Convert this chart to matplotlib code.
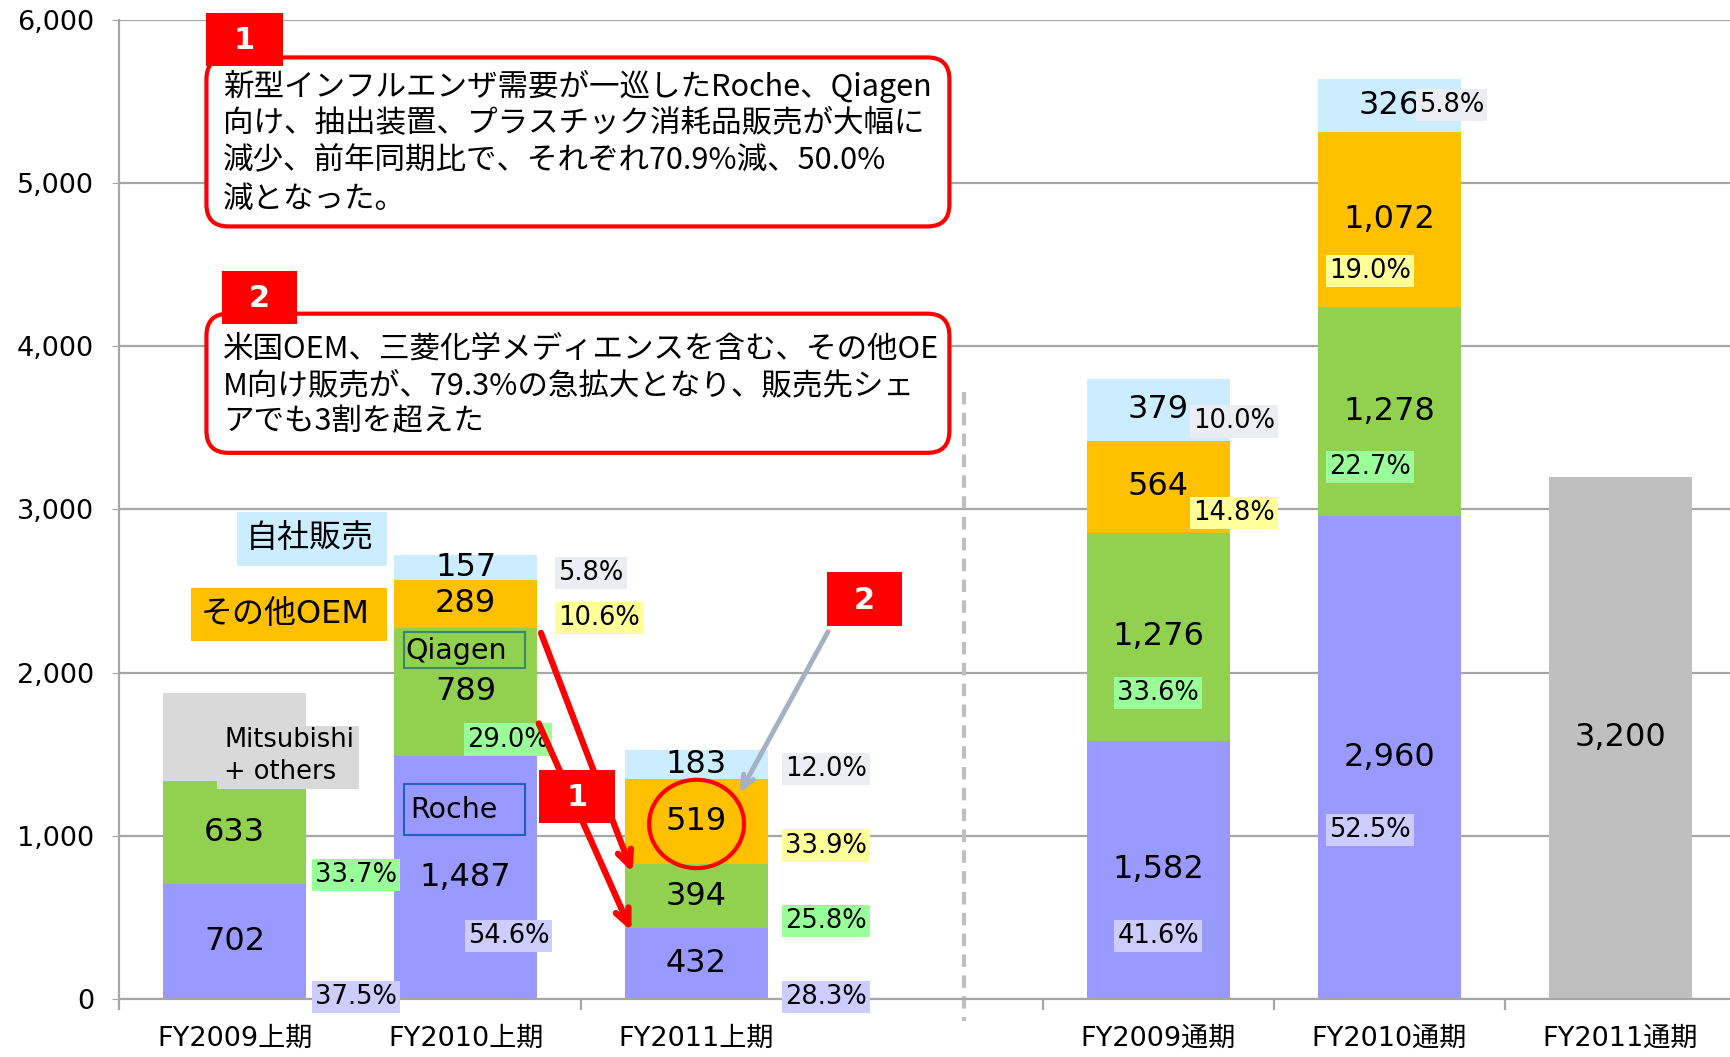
import matplotlib
matplotlib.use('Agg')
import matplotlib.pyplot as plt
from matplotlib.patches import Rectangle, FancyBboxPatch, Ellipse
from matplotlib.transforms import IdentityTransform
from matplotlib.ticker import FuncFormatter

plt.rcParams['font.family'] = ['DejaVu Sans', 'Noto Sans CJK JP']

# ---------------- data ----------------
categories = ['FY2009上期', 'FY2010上期', 'FY2011上期', 'FY2009通期', 'FY2010通期', 'FY2011通期']
positions = [0, 1, 2, 4, 5, 6]
roche = [702, 1487, 432, 1582, 2960, 0]
qiagen = [633, 789, 394, 1276, 1278, 0]
other_oem = [0, 289, 519, 564, 1072, 0]
direct_sales = [0, 157, 183, 379, 326, 0]
mitsubishi_others = [538, 0, 0, 0, 0, 0]
forecast = [0, 0, 0, 0, 0, 3200]

roche_pct = ['37.5%', '54.6%', '28.3%', '41.6%', '52.5%', None]
qiagen_pct = ['33.7%', '29.0%', '25.8%', '33.6%', '22.7%', None]
oem_pct = [None, '10.6%', '33.9%', '14.8%', '19.0%', None]
direct_pct = [None, '5.8%', '12.0%', '10.0%', '5.8%', None]

yticks = [0, 1000, 2000, 3000, 4000, 5000, 6000]

note1 = ['新型インフルエンザ需要が一巡したRoche、Qiagen',
         '向け、抽出装置、プラスチック消耗品販売が大幅に',
         '減少、前年同期比で、それぞれ70.9%減、50.0%',
         '減となった。']
note2 = ['米国OEM、三菱化学メディエンスを含む、その他OE',
         'M向け販売が、79.3%の急拡大となり、販売先シェ',
         'アでも3割を超えた']

# ---------------- style / layout ----------------
C_ROCHE, C_QIAGEN, C_OEM, C_DIRECT = '#9999FF', '#92D050', '#FFC000', '#CCECFF'
C_MITSU, C_FORE = '#D9D9D9', '#BFBFBF'
P_ROCHE, P_QIAGEN, P_OEM, P_DIRECT = '#CCCCFF', '#99FF99', '#FFFF99', '#EAEEF2'
BAR_W = 0.62

# percent label positions (x, y) in data units, per series
roche_pct_pos = [(0.526, 14), (1.185, 386), (2.561, 14), (4.0, 386), (4.916, 1035), None]
qiagen_pct_pos = [(0.526, 758), (1.185, 1590), (2.561, 480), (4.0, 1874), (4.916, 3261), None]
oem_pct_pos = [None, (1.577, 2334), (2.561, 940), (4.329, 2977), (4.916, 4459), None]
direct_pct_pos = [None, (1.543, 2612), (2.561, 1407), (4.329, 3539), (5.27, 5480), None]

W, H = 1731, 1057
SX, SY = W / 1568, H / 957


def P(xd, yd):
    return (xd * SX, H - yd * SY)


fig = plt.figure(figsize=(W / 100, H / 100), dpi=100)
ax = fig.add_axes([0.0689, 0.0549, 0.9311, 0.9263])
ax.set_xlim(-0.5, 6.48)
ax.set_ylim(0, 6000)

ax.set_axisbelow(True)
ax.yaxis.grid(True, color='#A6A6A6', lw=1.6)
for s in ['top', 'right']:
    ax.spines[s].set_visible(False)
for s in ['left', 'bottom']:
    ax.spines[s].set_color('#A6A6A6')
    ax.spines[s].set_linewidth(1.6)

ax.set_yticks(yticks)
ax.yaxis.set_major_formatter(FuncFormatter(lambda v, p: f'{int(v):,}'))
ax.tick_params(axis='y', labelsize=19.5, length=5, color='#A6A6A6', pad=13)
ax.set_xticks(positions, categories)
ax.tick_params(axis='x', which='major', labelsize=19.5, length=0, pad=19)
ax.set_xticks([-0.5, 0.5, 1.5, 2.5, 3.5, 4.5, 5.5], minor=True)
ax.tick_params(axis='x', which='minor', length=8, color='#A6A6A6', width=1.6)

# bars
bottom = [0] * len(positions)
series = [(roche, C_ROCHE), (qiagen, C_QIAGEN), (other_oem, C_OEM), (direct_sales, C_DIRECT)]
seg_centers = []
for vals, col in series:
    ax.bar(positions, vals, BAR_W, bottom=bottom, color=col, zorder=2)
    seg_centers.append([b + v / 2 for b, v in zip(bottom, vals)])
    bottom = [b + v for b, v in zip(bottom, vals)]
ax.bar(positions, mitsubishi_others, BAR_W, bottom=[r + q for r, q in zip(roche, qiagen)],
       color=C_MITSU, zorder=2)
ax.bar(positions, forecast, BAR_W, color=C_FORE, zorder=2)

# value labels
for (vals, _), centers in zip(series, seg_centers):
    for x, v, c in zip(positions, vals, centers):
        if v:
            ax.text(x, c, f'{v:,}', ha='center', va='center', fontsize=23, zorder=5)
for x, v in zip(positions, forecast):
    if v:
        ax.text(x, v / 2, f'{v:,}', ha='center', va='center', fontsize=23, zorder=5)

# percentage labels
for labels, poss, col in [(roche_pct, roche_pct_pos, P_ROCHE), (qiagen_pct, qiagen_pct_pos, P_QIAGEN),
                          (oem_pct, oem_pct_pos, P_OEM), (direct_pct, direct_pct_pos, P_DIRECT)]:
    for lab, pos in zip(labels, poss):
        if lab and pos:
            ax.text(pos[0], pos[1], lab, ha='center', va='center', fontsize=18.5, zorder=6,
                    bbox=dict(boxstyle='square,pad=0.12', fc=col, ec='none'))

# dashed separator
ax.plot([3.158, 3.158], [3721, -135], ls=(0, (3, 2)), color='#BFBFBF', lw=3, clip_on=False, zorder=1)

IT = IdentityTransform()


def rect(x0, y0, x1, y1, fc, ec='none', lw=0, z=3):
    a = P(x0, y1)
    b = P(x1, y0)
    fig.add_artist(Rectangle(a, b[0] - a[0], b[1] - a[1], fc=fc, ec=ec, lw=lw, transform=IT, zorder=z))


def ftext(xd, yd, s, **kw):
    x, y = P(xd, yd)
    fig.text(x / W, y / H, s, **kw)


# Mitsubishi label box
rect(197, 657, 325, 714, C_MITSU)
ftext(203, 670, 'Mitsubishi', fontsize=18.5, va='center', ha='left', zorder=4)
ftext(203, 699, '+ others', fontsize=18.5, va='center', ha='left', zorder=4)

# legend-like boxes
rect(215, 464, 351, 512, C_DIRECT)
ftext(281, 488, '自社販売', fontsize=23, va='center', ha='center', zorder=4)
rect(173, 532, 351, 580, C_OEM)
ftext(258, 556, 'その他OEM', fontsize=23, va='center', ha='center', zorder=4)
rect(366, 572, 476, 605, C_QIAGEN, ec='#3A8A6A', lw=1.5)
ftext(367, 589, 'Qiagen', fontsize=20.5, va='center', ha='left', zorder=4)
rect(366, 710, 476, 756, C_ROCHE, ec='#2060C0', lw=1.5)
ftext(372, 733, 'Roche', fontsize=20.5, va='center', ha='left', zorder=4)

# note boxes
for (x0, y0, x1, y1) in [(187, 52, 860, 205), (187, 284, 860, 410)]:
    a = P(x0, y1)
    b = P(x1, y0)
    fig.add_artist(FancyBboxPatch(a, b[0] - a[0], b[1] - a[1],
                                  boxstyle='round,pad=0,rounding_size=22',
                                  fc='white', ec='#FF0000', lw=3, transform=IT, zorder=3))
for yd, line in zip([78, 112, 146, 181], note1):
    ftext(202, yd, line, fontsize=22, va='center', ha='left', zorder=4,
          family=['Noto Sans CJK JP'])
for yd, line in zip([316, 349, 382], note2):
    ftext(202, yd, line, fontsize=22, va='center', ha='left', zorder=4,
          family=['Noto Sans CJK JP'])

# arrows
ax.annotate('', xy=P(573, 790), xytext=P(490, 573), xycoords='figure pixels',
            arrowprops=dict(arrowstyle='->,head_length=1.1,head_width=0.5', color='#FF0000', lw=4.5,
                            shrinkA=0, shrinkB=0), zorder=7)
ax.annotate('', xy=P(572, 843), xytext=P(488, 655), xycoords='figure pixels',
            arrowprops=dict(arrowstyle='->,head_length=1.1,head_width=0.5', color='#FF0000', lw=4.5,
                            shrinkA=0, shrinkB=0), zorder=7)
ax.annotate('', xy=P(670, 718), xytext=P(750, 572), xycoords='figure pixels',
            arrowprops=dict(arrowstyle='->,head_length=0.9,head_width=0.4', color='#A3B1C2', lw=3.5,
                            shrinkA=0, shrinkB=0), zorder=7)

# circle around 519
cx, cy = P(631, 746)
fig.add_artist(Ellipse((cx, cy), 86 * SX, 80 * SY, fc='none', ec='#FF0000', lw=3, transform=IT, zorder=8))

# badges
for (x0, y0, x1, y1, s) in [(187, 12, 256, 60, '1'), (201, 245, 269, 293, '2'),
                            (749, 518, 817, 567, '2'), (488, 697, 557, 745, '1')]:
    rect(x0, y0, x1, y1, '#FF0000', z=9)
    ftext((x0 + x1) / 2, (y0 + y1) / 2 + 1, s, fontsize=22, color='white', fontweight='bold',
          va='center', ha='center', zorder=10)

fig.savefig('out.png', dpi=100)
